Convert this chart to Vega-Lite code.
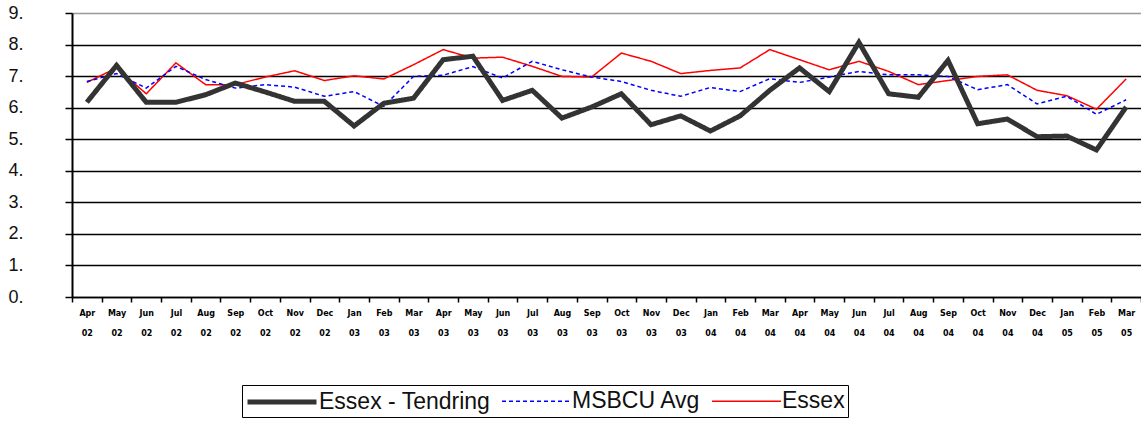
{
  "$schema": "https://vega.github.io/schema/vega-lite/v6.json",
  "autosize": "none",
  "width": 1069,
  "height": 284,
  "padding": {"left": 72, "top": 13, "right": 0, "bottom": 130},
  "background": "white",
  "data": {
    "values": [
      {"month":"Apr 02","series":"Essex","value":6.8},
      {"month":"May 02","series":"Essex","value":7.26},
      {"month":"Jun 02","series":"Essex","value":6.44},
      {"month":"Jul 02","series":"Essex","value":7.42},
      {"month":"Aug 02","series":"Essex","value":6.73},
      {"month":"Sep 02","series":"Essex","value":6.73},
      {"month":"Oct 02","series":"Essex","value":6.97},
      {"month":"Nov 02","series":"Essex","value":7.17},
      {"month":"Dec 02","series":"Essex","value":6.86},
      {"month":"Jan 03","series":"Essex","value":7.01},
      {"month":"Feb 03","series":"Essex","value":6.91},
      {"month":"Mar 03","series":"Essex","value":7.36},
      {"month":"Apr 03","series":"Essex","value":7.84},
      {"month":"May 03","series":"Essex","value":7.57},
      {"month":"Jun 03","series":"Essex","value":7.6},
      {"month":"Jul 03","series":"Essex","value":7.31},
      {"month":"Aug 03","series":"Essex","value":6.99},
      {"month":"Sep 03","series":"Essex","value":6.97},
      {"month":"Oct 03","series":"Essex","value":7.73},
      {"month":"Nov 03","series":"Essex","value":7.47},
      {"month":"Dec 03","series":"Essex","value":7.08},
      {"month":"Jan 04","series":"Essex","value":7.18},
      {"month":"Feb 04","series":"Essex","value":7.26},
      {"month":"Mar 04","series":"Essex","value":7.84},
      {"month":"Apr 04","series":"Essex","value":7.52},
      {"month":"May 04","series":"Essex","value":7.2},
      {"month":"Jun 04","series":"Essex","value":7.47},
      {"month":"Jul 04","series":"Essex","value":7.15},
      {"month":"Aug 04","series":"Essex","value":6.73},
      {"month":"Sep 04","series":"Essex","value":6.86},
      {"month":"Oct 04","series":"Essex","value":6.99},
      {"month":"Nov 04","series":"Essex","value":7.04},
      {"month":"Dec 04","series":"Essex","value":6.55},
      {"month":"Jan 05","series":"Essex","value":6.38},
      {"month":"Feb 05","series":"Essex","value":5.95},
      {"month":"Mar 05","series":"Essex","value":6.91},

      {"month":"Apr 02","series":"MSBCU Avg","value":6.83},
      {"month":"May 02","series":"MSBCU Avg","value":7.08},
      {"month":"Jun 02","series":"MSBCU Avg","value":6.62},
      {"month":"Jul 02","series":"MSBCU Avg","value":7.31},
      {"month":"Aug 02","series":"MSBCU Avg","value":6.89},
      {"month":"Sep 02","series":"MSBCU Avg","value":6.62},
      {"month":"Oct 02","series":"MSBCU Avg","value":6.73},
      {"month":"Nov 02","series":"MSBCU Avg","value":6.65},
      {"month":"Dec 02","series":"MSBCU Avg","value":6.36},
      {"month":"Jan 03","series":"MSBCU Avg","value":6.51},
      {"month":"Feb 03","series":"MSBCU Avg","value":6.04},
      {"month":"Mar 03","series":"MSBCU Avg","value":6.99},
      {"month":"Apr 03","series":"MSBCU Avg","value":7.03},
      {"month":"May 03","series":"MSBCU Avg","value":7.3},
      {"month":"Jun 03","series":"MSBCU Avg","value":6.94},
      {"month":"Jul 03","series":"MSBCU Avg","value":7.47},
      {"month":"Aug 03","series":"MSBCU Avg","value":7.2},
      {"month":"Sep 03","series":"MSBCU Avg","value":6.97},
      {"month":"Oct 03","series":"MSBCU Avg","value":6.83},
      {"month":"Nov 03","series":"MSBCU Avg","value":6.55},
      {"month":"Dec 03","series":"MSBCU Avg","value":6.36},
      {"month":"Jan 04","series":"MSBCU Avg","value":6.64},
      {"month":"Feb 04","series":"MSBCU Avg","value":6.51},
      {"month":"Mar 04","series":"MSBCU Avg","value":6.92},
      {"month":"Apr 04","series":"MSBCU Avg","value":6.8},
      {"month":"May 04","series":"MSBCU Avg","value":6.97},
      {"month":"Jun 04","series":"MSBCU Avg","value":7.15},
      {"month":"Jul 04","series":"MSBCU Avg","value":7.04},
      {"month":"Aug 04","series":"MSBCU Avg","value":7.04},
      {"month":"Sep 04","series":"MSBCU Avg","value":6.99},
      {"month":"Oct 04","series":"MSBCU Avg","value":6.57},
      {"month":"Nov 04","series":"MSBCU Avg","value":6.73},
      {"month":"Dec 04","series":"MSBCU Avg","value":6.12},
      {"month":"Jan 05","series":"MSBCU Avg","value":6.36},
      {"month":"Feb 05","series":"MSBCU Avg","value":5.79},
      {"month":"Mar 05","series":"MSBCU Avg","value":6.25},

      {"month":"Apr 02","series":"Essex - Tendring","value":6.17},
      {"month":"May 02","series":"Essex - Tendring","value":7.34},
      {"month":"Jun 02","series":"Essex - Tendring","value":6.17},
      {"month":"Jul 02","series":"Essex - Tendring","value":6.17},
      {"month":"Aug 02","series":"Essex - Tendring","value":6.41},
      {"month":"Sep 02","series":"Essex - Tendring","value":6.78},
      {"month":"Oct 02","series":"Essex - Tendring","value":6.5},
      {"month":"Nov 02","series":"Essex - Tendring","value":6.2},
      {"month":"Dec 02","series":"Essex - Tendring","value":6.2},
      {"month":"Jan 03","series":"Essex - Tendring","value":5.42},
      {"month":"Feb 03","series":"Essex - Tendring","value":6.14},
      {"month":"Mar 03","series":"Essex - Tendring","value":6.3},
      {"month":"Apr 03","series":"Essex - Tendring","value":7.52},
      {"month":"May 03","series":"Essex - Tendring","value":7.63},
      {"month":"Jun 03","series":"Essex - Tendring","value":6.23},
      {"month":"Jul 03","series":"Essex - Tendring","value":6.55},
      {"month":"Aug 03","series":"Essex - Tendring","value":5.67},
      {"month":"Sep 03","series":"Essex - Tendring","value":6.02},
      {"month":"Oct 03","series":"Essex - Tendring","value":6.44},
      {"month":"Nov 03","series":"Essex - Tendring","value":5.46},
      {"month":"Dec 03","series":"Essex - Tendring","value":5.74},
      {"month":"Jan 04","series":"Essex - Tendring","value":5.26},
      {"month":"Feb 04","series":"Essex - Tendring","value":5.74},
      {"month":"Mar 04","series":"Essex - Tendring","value":6.55},
      {"month":"Apr 04","series":"Essex - Tendring","value":7.26},
      {"month":"May 04","series":"Essex - Tendring","value":6.51},
      {"month":"Jun 04","series":"Essex - Tendring","value":8.07},
      {"month":"Jul 04","series":"Essex - Tendring","value":6.44},
      {"month":"Aug 04","series":"Essex - Tendring","value":6.33},
      {"month":"Sep 04","series":"Essex - Tendring","value":7.5},
      {"month":"Oct 04","series":"Essex - Tendring","value":5.49},
      {"month":"Nov 04","series":"Essex - Tendring","value":5.64},
      {"month":"Dec 04","series":"Essex - Tendring","value":5.08},
      {"month":"Jan 05","series":"Essex - Tendring","value":5.1},
      {"month":"Feb 05","series":"Essex - Tendring","value":4.66},
      {"month":"Mar 05","series":"Essex - Tendring","value":6.02}
    ]
  },
  "mark": {"type": "line", "interpolate": "linear"},
  "encoding": {
    "x": {
      "field": "month",
      "type": "nominal",
      "sort": null,
      "scale": {"type": "band", "paddingInner": 0, "paddingOuter": 0},
      "axis": {
        "title": null,
        "labelAngle": 0,
        "labelExpr": "split(datum.label, ' ')",
        "labelLineHeight": 20,
        "labelBaseline": "top",
        "labelFont": "DejaVu Sans",
        "labelFontWeight": "bold",
        "labelFontSize": 8,
        "labelColor": "#000",
        "labelPadding": 7,
        "tickBand": "extent",
        "tickSize": 5,
        "tickColor": "#000",
        "tickWidth": 1.5,
        "domainColor": "#000",
        "domainWidth": 1.5,
        "grid": false
      }
    },
    "y": {
      "field": "value",
      "type": "quantitative",
      "scale": {"domain": [0, 9], "nice": false, "zero": true},
      "axis": {
        "title": null,
        "values": [0,1,2,3,4,5,6,7,8,9],
        "labelExpr": "datum.value + '.'",
        "labelAlign": "left",
        "labelPadding": 57,
        "labelFont": "Liberation Sans",
        "labelFontSize": 18,
        "labelColor": "#111",
        "tickSize": 7,
        "tickColor": "#000",
        "tickWidth": 1.5,
        "domainColor": "#000",
        "domainWidth": 2,
        "grid": true,
        "gridColor": {"condition": {"test": "datum.value == 9", "value": "#999999"}, "value": "#000000"},
        "gridWidth": 1.5,
        "gridOpacity": 1
      }
    },
    "color": {
      "field": "series",
      "type": "nominal",
      "scale": {"domain": ["Essex - Tendring", "MSBCU Avg", "Essex"], "range": ["#333333", "#0000ff", "#ff0000"]},
      "legend": {
        "title": null,
        "orient": "none",
        "legendX": 170,
        "legendY": 372,
        "direction": "horizontal",
        "symbolType": "M-1,0H5",
        "symbolSize": 529,
        "labelFont": "Liberation Sans",
        "labelFontSize": 23,
        "labelColor": "#111",
        "labelLimit": 400,
        "labelOffset": 46,
        "columnPadding": 8,
        "padding": 3,
        "strokeColor": "#000",
        "fillColor": "white"
      }
    },
    "strokeDash": {
      "field": "series",
      "type": "nominal",
      "scale": {"domain": ["Essex - Tendring", "MSBCU Avg", "Essex"], "range": [[1, 0], [4, 3], [1, 0]]},
      "legend": null
    },
    "strokeWidth": {
      "field": "series",
      "type": "nominal",
      "scale": {"type": "ordinal", "domain": ["Essex - Tendring", "MSBCU Avg", "Essex"], "range": [5, 1.5, 1.5]},
      "legend": null
    }
  },
  "config": {
    "view": {"stroke": null}
  }
}
